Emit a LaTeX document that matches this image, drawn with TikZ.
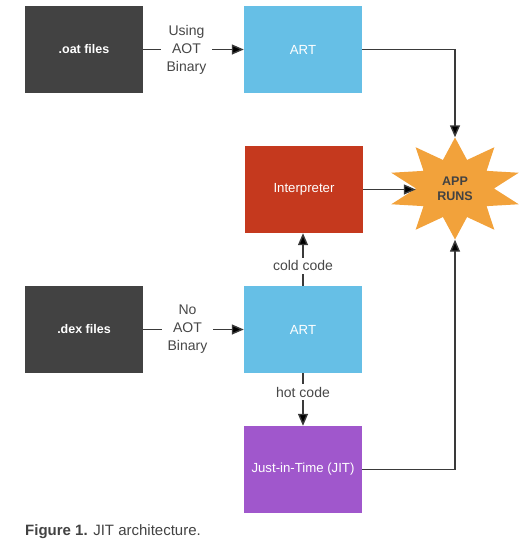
\documentclass[tikz,border=0pt]{standalone}
\usepackage{fontspec}
\setmainfont{Liberation Sans}
\usetikzlibrary{arrows.meta}
\definecolor{darkbox}{HTML}{424242}
\definecolor{bluebox}{HTML}{66BFE6}
\definecolor{redbox}{HTML}{C5391E}
\definecolor{purplebox}{HTML}{A057CC}
\definecolor{starfill}{HTML}{F2A23B}
\definecolor{linecol}{HTML}{3A3A3A}
\definecolor{txtgray}{HTML}{474747}
\tikzset{
  box/.style={rectangle, minimum width=118pt, minimum height=87pt, inner sep=0pt,
    text=white, font=\fontsize{13.2}{16}\selectfont},
  conn/.style={draw=linecol, line width=1.4pt, -{Triangle[length=12pt,width=10pt,fill=black]}},
  lbl/.style={fill=white, text=txtgray, align=center, inner xsep=6pt, inner ysep=3pt,
    font=\fontsize{14}{18}\selectfont},
}
\begin{document}
\begin{tikzpicture}[x=1pt,y=-1pt]
\useasboundingbox (0,0) rectangle (528,546);
% boxes
\node[box, fill=darkbox, font=\fontsize{12.5}{15}\selectfont\bfseries] (oat) at (84,49.5) {.oat files};
\node[box, fill=bluebox] (art1) at (303,49.5) {ART};
\node[box, fill=redbox] (interp) at (304,189.5) {Interpreter};
\node[box, fill=darkbox, font=\fontsize{12.5}{15}\selectfont\bfseries] (dex) at (84,329.5) {.dex files};
\node[box, fill=bluebox] (art2) at (303,329.5) {ART};
\node[box, fill=purplebox] (jit) at (303,469.5) {Just-in-Time (JIT)};
% star
\begin{scope}[shift={(455,188.5)}]
\fill[starfill] (90:67 and 51)
  \foreach \i in {0,...,9}{ -- ({72-36*\i}:39 and 30) -- ({54-36*\i}:67 and 51) } -- cycle;
\end{scope}
\node[rectangle, minimum width=78pt, minimum height=102pt, inner sep=0pt, align=center,
  text=darkbox, font=\fontsize{12.5}{15}\selectfont\bfseries] (app) at (455,188.5) {APP\\RUNS};
% connectors
\draw[conn] (oat) -- node[lbl, pos=0.43] {Using\\AOT\\Binary} (art1);
\draw[conn] (dex) -- node[lbl, pos=0.44] {No\\AOT\\Binary} (art2);
\draw[conn] (art2.north -| 303,0) -- node[lbl, pos=0.38] {cold code} (interp.south -| 303,0);
\draw[conn] (art2) -- node[lbl, pos=0.36] {hot code} (jit);
\draw[conn] (art1.east) -| (app.north);
\draw[conn] (interp.east) -- (interp.east -| app.west);
\draw[conn] (jit.east) -| (app.south);
% caption
\node[anchor=west, inner sep=0pt, text=darkbox, font=\fontsize{15}{18}\selectfont] (cap) at (25,532)
  {\textbf{Figure 1.} JIT architecture.};
\end{tikzpicture}
\end{document}
